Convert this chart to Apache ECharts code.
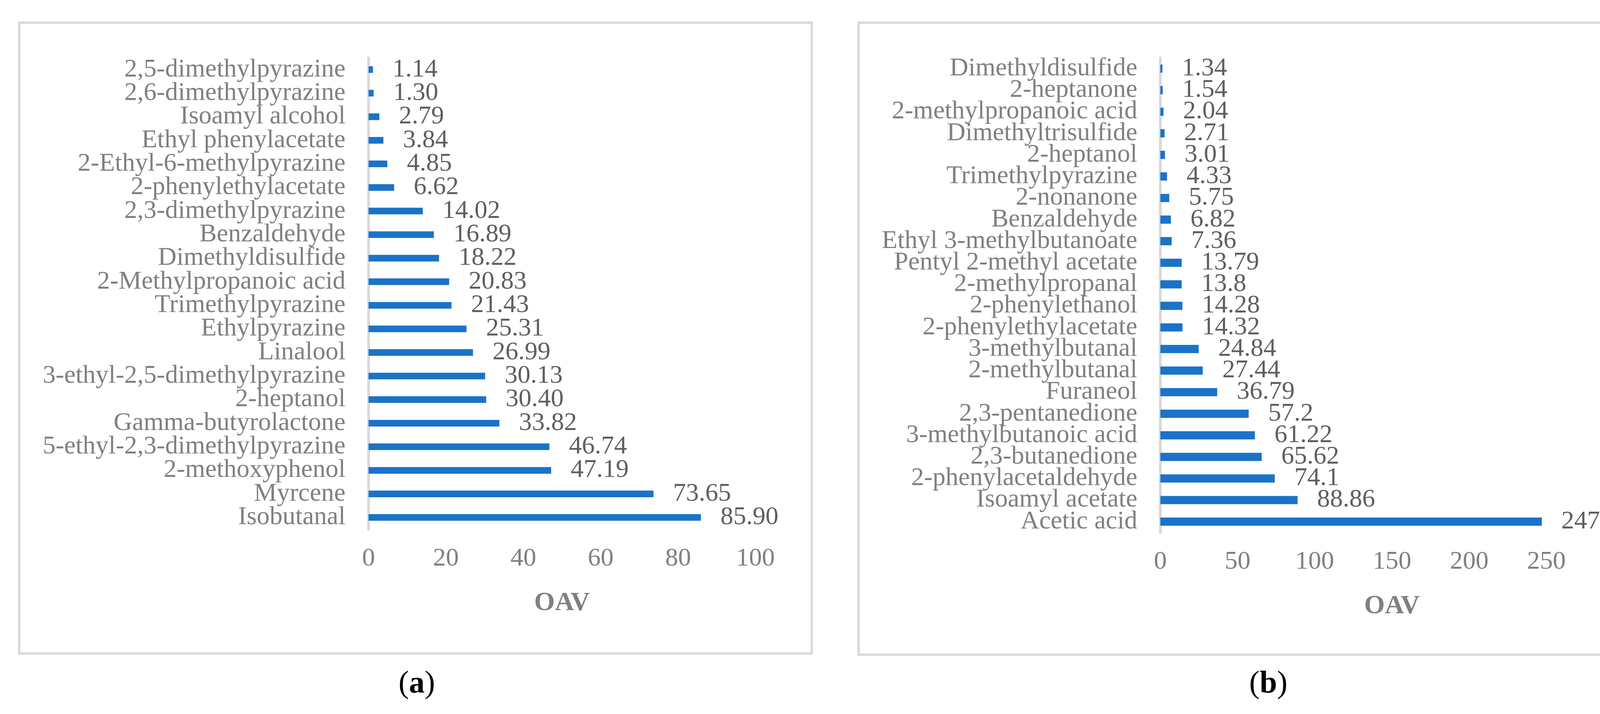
<!DOCTYPE html>
<html>
<head>
<meta charset="utf-8">
<script src="https://cdn.jsdelivr.net/npm/echarts@6/dist/echarts.min.js"></script>
<style>
  html, body { margin: 0; padding: 0; background: #fff; }
  #chart { width: 4339px; height: 1828px; }
</style>
</head>
<body>
<div id="chart"></div>
<script>
// ======================
// DATA (top row first)
// ======================

const compoundsA = [
    '2,5-dimethylpyrazine', '2,6-dimethylpyrazine', 'Isoamyl alcohol', 'Ethyl phenylacetate',
    '2-Ethyl-6-methylpyrazine', '2-phenylethylacetate', '2,3-dimethylpyrazine', 'Benzaldehyde',
    'Dimethyldisulfide', '2-Methylpropanoic acid', 'Trimethylpyrazine', 'Ethylpyrazine',
    'Linalool', '3-ethyl-2,5-dimethylpyrazine', '2-heptanol', 'Gamma-butyrolactone',
    '5-ethyl-2,3-dimethylpyrazine', '2-methoxyphenol', 'Myrcene', 'Isobutanal'
];
const oavA = [
    1.14, 1.30, 2.79, 3.84, 4.85, 6.62, 14.02, 16.89, 18.22, 20.83,
    21.43, 25.31, 26.99, 30.13, 30.40, 33.82, 46.74, 47.19, 73.65, 85.90
];

const compoundsB = [
    'Dimethyldisulfide', '2-heptanone', '2-methylpropanoic acid', 'Dimethyltrisulfide',
    '2-heptanol', 'Trimethylpyrazine', '2-nonanone', 'Benzaldehyde',
    'Ethyl 3-methylbutanoate', 'Pentyl 2-methyl acetate', '2-methylpropanal', '2-phenylethanol',
    '2-phenylethylacetate', '3-methylbutanal', '2-methylbutanal', 'Furaneol',
    '2,3-pentanedione', '3-methylbutanoic acid', '2,3-butanedione', '2-phenylacetaldehyde',
    'Isoamyl acetate', 'Acetic acid'
];
const oavB = [
    1.34, 1.54, 2.04, 2.71, 3.01, 4.33, 5.75, 6.82, 7.36, 13.79, 13.8,
    14.28, 14.32, 24.84, 27.44, 36.79, 57.2, 61.22, 65.62, 74.1, 88.86, 247.02
];

const ticksA = { min: 0, max: 100, interval: 20 };
const ticksB = { min: 0, max: 300, interval: 50 };

// ======================
// STYLE
// ======================

const FONT = '"Liberation Serif", "Times New Roman", serif';
const BAR_COLOR = '#1a73c8';
const GREY = '#808080';
const VALUE_GREY = '#5f5f5f';
const FRAME = '#d9d9d9';

function valueAxis(idx, ticks) {
    return {
        type: 'value',
        gridIndex: idx,
        min: ticks.min,
        max: ticks.max,
        interval: ticks.interval,
        name: 'OAV',
        nameLocation: 'middle',
        nameGap: 155,
        nameTextStyle: { fontFamily: FONT, fontSize: 68, fontWeight: 'bold', color: GREY },
        axisLine: { show: false },
        axisTick: { show: false },
        splitLine: { show: false },
        axisLabel: { fontFamily: FONT, fontSize: 66, color: GREY, margin: 43 }
    };
}

function categoryAxis(idx, names, extraPad) {
    return {
        type: 'category',
        gridIndex: idx,
        data: names,
        inverse: true,
        axisLine: { show: true, lineStyle: { color: FRAME, width: 7 } },
        axisTick: { show: false },
        axisLabel: {
            interval: 0,
            fontFamily: FONT,
            fontSize: 66,
            color: GREY,
            margin: 59,
            padding: [0, 0, extraPad, 0]
        }
    };
}

function barSeries(idx, values, fmt, width) {
    return {
        type: 'bar',
        xAxisIndex: idx,
        yAxisIndex: idx,
        data: values,
        barWidth: width,
        itemStyle: { color: BAR_COLOR },
        label: {
            show: true,
            position: 'right',
            distance: 50,
            fontFamily: FONT,
            fontSize: 66,
            color: VALUE_GREY,
            formatter: p => fmt(p.value)
        },
        silent: true,
        animation: false
    };
}

function caption(x, letter) {
    return {
        type: 'text',
        x: x,
        y: 1752,
        style: {
            text: '{n|(}{b|' + letter + '}{n|)}',
            align: 'center',
            verticalAlign: 'middle',
            rich: {
                n: { fontFamily: FONT, fontSize: 80, fill: '#000' },
                b: { fontFamily: FONT, fontSize: 80, fontWeight: 'bold', fill: '#000' }
            }
        }
    };
}

const chart = echarts.init(document.getElementById('chart'));

chart.setOption({
    backgroundColor: '#fff',
    animation: false,
    grid: [
        { left: 943.5, top: 148, width: 990.5, height: 1207 },
        { left: 2970.5, top: 148, width: 1186, height: 1215 }
    ],
    xAxis: [valueAxis(0, ticksA), valueAxis(1, ticksB)],
    yAxis: [categoryAxis(0, compoundsA, 18), categoryAxis(1, compoundsB, 0)],
    series: [
        barSeries(0, oavA, v => v.toFixed(2), 17),
        barSeries(1, oavB, v => String(v), 21)
    ],
    graphic: [
        {
            type: 'rect', z: -10,
            shape: { x: 49, y: 58, width: 2029, height: 1615 },
            style: { fill: 'none', stroke: FRAME, lineWidth: 6 }
        },
        {
            type: 'rect', z: -10,
            shape: { x: 2198, y: 58, width: 2100, height: 1618 },
            style: { fill: 'none', stroke: FRAME, lineWidth: 6 }
        },
        caption(1067, 'a'),
        caption(3247, 'b')
    ]
});
</script>
</body>
</html>
